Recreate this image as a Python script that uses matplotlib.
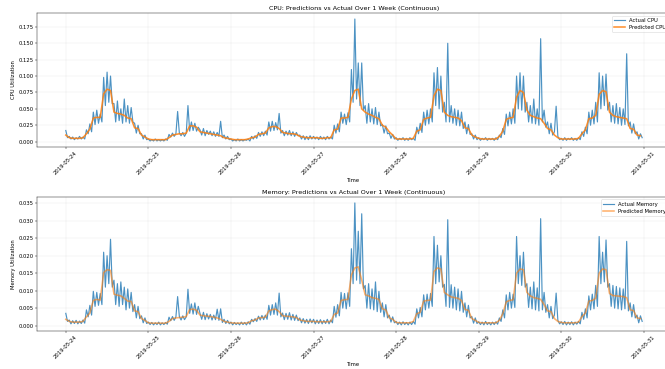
import numpy as np
import pandas as pd
import matplotlib
matplotlib.use("Agg")
import matplotlib.pyplot as plt
import matplotlib.dates as mdates

# ---- CPU, actual (half-hourly readings, one line per day) ----
cpu_actual = [
    # 2019-05-24
    0.017, 0.006, 0.008, 0.004, 0.007, 0.003, 0.006, 0.004, 0.008, 0.004, 0.007, 0.004,
    0.018, 0.012, 0.027, 0.015, 0.045, 0.026, 0.048, 0.028, 0.042, 0.030,
    0.098, 0.055, 0.106, 0.060, 0.100, 0.058,
    0.058, 0.030, 0.062, 0.032, 0.050, 0.028, 0.065, 0.030, 0.055, 0.028, 0.052, 0.030,
    0.028, 0.013, 0.025, 0.012, 0.012, 0.004, 0.010, 0.003,
    # 2019-05-25
    0.004, 0.001, 0.003, 0.001, 0.004, 0.001, 0.003, 0.001, 0.003, 0.001, 0.004, 0.002,
    0.011, 0.007, 0.013, 0.008, 0.012, 0.046, 0.013, 0.009, 0.014, 0.008, 0.013, 0.055,
    0.016, 0.030, 0.017, 0.028, 0.016, 0.022,
    0.018, 0.010, 0.020, 0.009, 0.017, 0.011, 0.016, 0.009, 0.015, 0.008, 0.014, 0.008,
    0.031, 0.006, 0.010, 0.004, 0.008, 0.003,
    # 2019-05-26
    0.004, 0.001, 0.003, 0.001, 0.004, 0.001, 0.003, 0.001, 0.003, 0.002, 0.004, 0.001,
    0.008, 0.004, 0.009, 0.005, 0.014, 0.008, 0.015, 0.009, 0.016, 0.010,
    0.030, 0.016, 0.031, 0.017, 0.029, 0.018, 0.043, 0.013,
    0.017, 0.009, 0.016, 0.010, 0.017, 0.009, 0.015, 0.008, 0.014, 0.009,
    0.010, 0.004, 0.009, 0.003, 0.008, 0.003, 0.009, 0.004,
    # 2019-05-27
    0.008, 0.004, 0.007, 0.003, 0.008, 0.004, 0.007, 0.003, 0.008, 0.004, 0.007, 0.004,
    0.025, 0.013, 0.027, 0.015, 0.045, 0.028, 0.042, 0.026, 0.044, 0.030,
    0.110, 0.060, 0.187, 0.065, 0.120, 0.055, 0.120, 0.048,
    0.055, 0.028, 0.058, 0.030, 0.050, 0.027, 0.052, 0.026, 0.045, 0.024,
    0.026, 0.013, 0.024, 0.012, 0.013, 0.005, 0.011, 0.004,
    # 2019-05-28
    0.006, 0.002, 0.005, 0.003, 0.006, 0.002, 0.005, 0.002, 0.006, 0.003, 0.005, 0.002,
    0.022, 0.012, 0.028, 0.014, 0.045, 0.025, 0.048, 0.027, 0.050, 0.030,
    0.105, 0.055, 0.113, 0.050, 0.100, 0.045,
    0.060, 0.030, 0.150, 0.030, 0.055, 0.028, 0.050, 0.025, 0.048, 0.024, 0.045, 0.020,
    0.030, 0.012, 0.026, 0.011, 0.012, 0.004, 0.010, 0.003,
    # 2019-05-29
    0.006, 0.002, 0.005, 0.003, 0.006, 0.002, 0.005, 0.003, 0.005, 0.002, 0.006, 0.003,
    0.010, 0.006, 0.020, 0.011, 0.042, 0.024, 0.045, 0.027, 0.050, 0.028,
    0.100, 0.050, 0.105, 0.048, 0.100, 0.045,
    0.060, 0.030, 0.055, 0.028, 0.065, 0.027, 0.050, 0.025, 0.157, 0.030, 0.048, 0.022,
    0.030, 0.012, 0.028, 0.010, 0.015, 0.054, 0.008, 0.003,
    # 2019-05-30
    0.005, 0.002, 0.006, 0.002, 0.005, 0.003, 0.006, 0.002, 0.005, 0.002, 0.006, 0.003,
    0.015, 0.008, 0.022, 0.012, 0.045, 0.025, 0.048, 0.027, 0.060, 0.030,
    0.105, 0.050, 0.100, 0.055, 0.103, 0.048,
    0.060, 0.030, 0.055, 0.028, 0.058, 0.027, 0.052, 0.025, 0.050, 0.026, 0.134, 0.024,
    0.030, 0.013, 0.027, 0.012, 0.015, 0.004, 0.012, 0.006,
]

# ---- CPU, predicted (hourly) ----
cpu_pred = [
    0.010, 0.006, 0.005, 0.005, 0.005, 0.006, 0.012, 0.019, 0.036, 0.037, 0.037, 0.073,
    0.080, 0.078, 0.045, 0.043, 0.042, 0.040, 0.036, 0.035, 0.021, 0.020, 0.010, 0.007,
    0.004, 0.003, 0.003, 0.003, 0.003, 0.003, 0.006, 0.010, 0.011, 0.012, 0.012, 0.013,
    0.024, 0.024, 0.022, 0.015, 0.014, 0.013, 0.012, 0.011, 0.010, 0.009, 0.006, 0.005,
    0.004, 0.003, 0.003, 0.003, 0.003, 0.004, 0.006, 0.007, 0.011, 0.012, 0.013, 0.021,
    0.023, 0.023, 0.020, 0.014, 0.013, 0.012, 0.012, 0.011, 0.008, 0.007, 0.006, 0.006,
    0.006, 0.006, 0.005, 0.005, 0.006, 0.006, 0.018, 0.019, 0.036, 0.036, 0.037, 0.065,
    0.078, 0.080, 0.050, 0.045, 0.042, 0.040, 0.037, 0.035, 0.025, 0.022, 0.015, 0.010,
    0.004, 0.004, 0.004, 0.004, 0.004, 0.005, 0.016, 0.018, 0.034, 0.036, 0.037, 0.070,
    0.080, 0.078, 0.045, 0.040, 0.038, 0.037, 0.036, 0.032, 0.021, 0.020, 0.010, 0.007,
    0.005, 0.004, 0.004, 0.004, 0.004, 0.004, 0.008, 0.016, 0.034, 0.036, 0.037, 0.068,
    0.078, 0.075, 0.048, 0.040, 0.038, 0.036, 0.035, 0.028, 0.020, 0.018, 0.010, 0.006,
    0.004, 0.004, 0.004, 0.004, 0.004, 0.005, 0.012, 0.018, 0.035, 0.036, 0.040, 0.072,
    0.078, 0.076, 0.045, 0.040, 0.038, 0.037, 0.036, 0.035, 0.020, 0.019, 0.010, 0.009,
]

# ---- Memory, actual (half-hourly) ----
mem_actual = [
    # 2019-05-24
    0.0035, 0.0012, 0.0016, 0.0005, 0.0014, 0.0006, 0.0015, 0.0005, 0.0013, 0.0006, 0.0016, 0.0007,
    0.0045, 0.0025, 0.0058, 0.0030, 0.0098, 0.0055, 0.0095, 0.0058, 0.0092, 0.0060,
    0.0210, 0.0110, 0.0200, 0.0120, 0.0247, 0.0110,
    0.0130, 0.0060, 0.0120, 0.0055, 0.0125, 0.0060, 0.0110, 0.0045, 0.0105, 0.0050, 0.0095, 0.0040,
    0.0060, 0.0022, 0.0055, 0.0020, 0.0028, 0.0008, 0.0022, 0.0006,
    # 2019-05-25
    0.0010, 0.0003, 0.0009, 0.0002, 0.0008, 0.0003, 0.0010, 0.0002, 0.0008, 0.0003, 0.0009, 0.0004,
    0.0024, 0.0014, 0.0026, 0.0015, 0.0025, 0.0083, 0.0026, 0.0016, 0.0028, 0.0017, 0.0025, 0.0104,
    0.0035, 0.0062, 0.0033, 0.0065, 0.0032, 0.0055,
    0.0035, 0.0018, 0.0038, 0.0017, 0.0034, 0.0019, 0.0032, 0.0016, 0.0030, 0.0017, 0.0047, 0.0015,
    0.0048, 0.0009, 0.0018, 0.0006, 0.0015, 0.0005,
    # 2019-05-26
    0.0010, 0.0002, 0.0009, 0.0003, 0.0008, 0.0002, 0.0010, 0.0003, 0.0009, 0.0002, 0.0011, 0.0004,
    0.0018, 0.0011, 0.0020, 0.0012, 0.0027, 0.0016, 0.0029, 0.0017, 0.0030, 0.0018,
    0.0058, 0.0030, 0.0060, 0.0032, 0.0065, 0.0030, 0.0093, 0.0025,
    0.0036, 0.0017, 0.0035, 0.0018, 0.0037, 0.0016, 0.0032, 0.0015, 0.0030, 0.0014,
    0.0022, 0.0008, 0.0020, 0.0007, 0.0018, 0.0006, 0.0019, 0.0008,
    # 2019-05-27
    0.0018, 0.0005, 0.0016, 0.0006, 0.0017, 0.0005, 0.0015, 0.0006, 0.0018, 0.0005, 0.0016, 0.0008,
    0.0055, 0.0024, 0.0060, 0.0028, 0.0095, 0.0050, 0.0092, 0.0048, 0.0094, 0.0055,
    0.0220, 0.0120, 0.0351, 0.0130, 0.0270, 0.0120, 0.0320, 0.0105,
    0.0115, 0.0050, 0.0120, 0.0048, 0.0105, 0.0045, 0.0125, 0.0040, 0.0098, 0.0038,
    0.0065, 0.0025, 0.0060, 0.0022, 0.0030, 0.0010, 0.0025, 0.0008,
    # 2019-05-28
    0.0012, 0.0003, 0.0010, 0.0002, 0.0011, 0.0003, 0.0009, 0.0002, 0.0010, 0.0003, 0.0012, 0.0004,
    0.0048, 0.0022, 0.0052, 0.0025, 0.0088, 0.0045, 0.0090, 0.0050, 0.0092, 0.0055,
    0.0255, 0.0120, 0.0230, 0.0125, 0.0200, 0.0110,
    0.0118, 0.0055, 0.0303, 0.0052, 0.0117, 0.0050, 0.0110, 0.0045, 0.0105, 0.0042, 0.0098, 0.0038,
    0.0065, 0.0025, 0.0058, 0.0022, 0.0026, 0.0007, 0.0022, 0.0006,
    # 2019-05-29
    0.0011, 0.0003, 0.0010, 0.0002, 0.0012, 0.0003, 0.0009, 0.0002, 0.0010, 0.0003, 0.0011, 0.0004,
    0.0022, 0.0012, 0.0045, 0.0022, 0.0088, 0.0045, 0.0095, 0.0050, 0.0090, 0.0052,
    0.0255, 0.0120, 0.0200, 0.0115, 0.0210, 0.0110,
    0.0120, 0.0052, 0.0110, 0.0048, 0.0125, 0.0045, 0.0108, 0.0042, 0.0306, 0.0045, 0.0095, 0.0038,
    0.0060, 0.0022, 0.0055, 0.0020, 0.0030, 0.0093, 0.0015, 0.0005,
    # 2019-05-30
    0.0011, 0.0003, 0.0012, 0.0002, 0.0010, 0.0003, 0.0011, 0.0002, 0.0010, 0.0004, 0.0012, 0.0005,
    0.0038, 0.0018, 0.0048, 0.0022, 0.0085, 0.0045, 0.0090, 0.0048, 0.0115, 0.0055,
    0.0255, 0.0120, 0.0210, 0.0125, 0.0245, 0.0110,
    0.0120, 0.0055, 0.0115, 0.0050, 0.0112, 0.0048, 0.0108, 0.0045, 0.0105, 0.0048, 0.0241, 0.0042,
    0.0065, 0.0025, 0.0060, 0.0022, 0.0030, 0.0008, 0.0028, 0.0012,
]

# ---- Memory, predicted (hourly) ----
mem_pred = [
    0.0018, 0.0012, 0.0010, 0.0010, 0.0010, 0.0012, 0.0025, 0.0036, 0.0072, 0.0075, 0.0073, 0.0152,
    0.0160, 0.0158, 0.0090, 0.0087, 0.0085, 0.0078, 0.0070, 0.0069, 0.0042, 0.0040, 0.0020, 0.0015,
    0.0008, 0.0007, 0.0007, 0.0007, 0.0007, 0.0007, 0.0012, 0.0020, 0.0022, 0.0023, 0.0024, 0.0026,
    0.0046, 0.0047, 0.0044, 0.0030, 0.0028, 0.0027, 0.0026, 0.0024, 0.0022, 0.0018, 0.0012, 0.0010,
    0.0008, 0.0007, 0.0007, 0.0007, 0.0007, 0.0008, 0.0014, 0.0016, 0.0022, 0.0023, 0.0024, 0.0042,
    0.0046, 0.0047, 0.0040, 0.0028, 0.0027, 0.0026, 0.0025, 0.0023, 0.0016, 0.0014, 0.0012, 0.0012,
    0.0012, 0.0011, 0.0011, 0.0011, 0.0011, 0.0012, 0.0032, 0.0036, 0.0072, 0.0074, 0.0075, 0.0145,
    0.0165, 0.0168, 0.0130, 0.0088, 0.0085, 0.0080, 0.0078, 0.0075, 0.0048, 0.0045, 0.0022, 0.0018,
    0.0009, 0.0008, 0.0008, 0.0008, 0.0008, 0.0012, 0.0034, 0.0038, 0.0070, 0.0072, 0.0073, 0.0155,
    0.0165, 0.0162, 0.0095, 0.0088, 0.0082, 0.0080, 0.0078, 0.0072, 0.0046, 0.0044, 0.0020, 0.0015,
    0.0009, 0.0008, 0.0008, 0.0008, 0.0008, 0.0008, 0.0015, 0.0034, 0.0068, 0.0072, 0.0074, 0.0150,
    0.0162, 0.0160, 0.0095, 0.0085, 0.0080, 0.0078, 0.0075, 0.0060, 0.0042, 0.0040, 0.0020, 0.0012,
    0.0009, 0.0008, 0.0008, 0.0008, 0.0008, 0.0010, 0.0026, 0.0036, 0.0070, 0.0072, 0.0078, 0.0150,
    0.0162, 0.0160, 0.0092, 0.0086, 0.0085, 0.0084, 0.0083, 0.0080, 0.0045, 0.0043, 0.0022, 0.0020,
]

t_actual = pd.date_range("2019-05-24 00:00", periods=len(cpu_actual), freq="30min")
t_pred = pd.date_range("2019-05-24 00:00", periods=len(cpu_pred), freq="h")

# figure is drawn at a low dpi so default font sizes match the downscaled look
DPI = 38
fig, (ax1, ax2) = plt.subplots(2, 1, figsize=(665 / DPI, 369 / DPI), dpi=DPI)
fig.subplots_adjust(left=0.0556, right=1.009, top=0.965, bottom=0.103, hspace=0.371)

#%% CPU panel
ax1.plot(t_actual, cpu_actual, color="#1f77b4", lw=2.2, alpha=0.8, label="Actual CPU")
ax1.plot(t_pred, cpu_pred, color="#ff7f0e", lw=3, alpha=0.85, label="Predicted CPU")
ax1.set_title("CPU: Predictions vs Actual Over 1 Week (Continuous)")
ax1.set_xlabel("Time")
ax1.set_ylabel("CPU Utilization")
ax1.legend(loc="upper right")
ax1.grid(True, alpha=0.3)

#%% Memory panel
ax2.plot(t_actual, mem_actual, color="#1f77b4", lw=2.2, alpha=0.8, label="Actual Memory")
ax2.plot(t_pred, mem_pred, color="#ff7f0e", lw=3, alpha=0.6, label="Predicted Memory")
ax2.set_title("Memory: Predictions vs Actual Over 1 Week (Continuous)")
ax2.set_xlabel("Time")
ax2.set_ylabel("Memory Utilization")
ax2.legend(loc="upper right")
ax2.grid(True, alpha=0.3)

for ax in (ax1, ax2):
    ax.xaxis.set_major_locator(mdates.DayLocator())
    ax.xaxis.set_major_formatter(mdates.DateFormatter("%Y-%m-%d"))
    plt.setp(ax.get_xticklabels(), rotation=45)

fig.savefig("out.png", dpi=DPI)
